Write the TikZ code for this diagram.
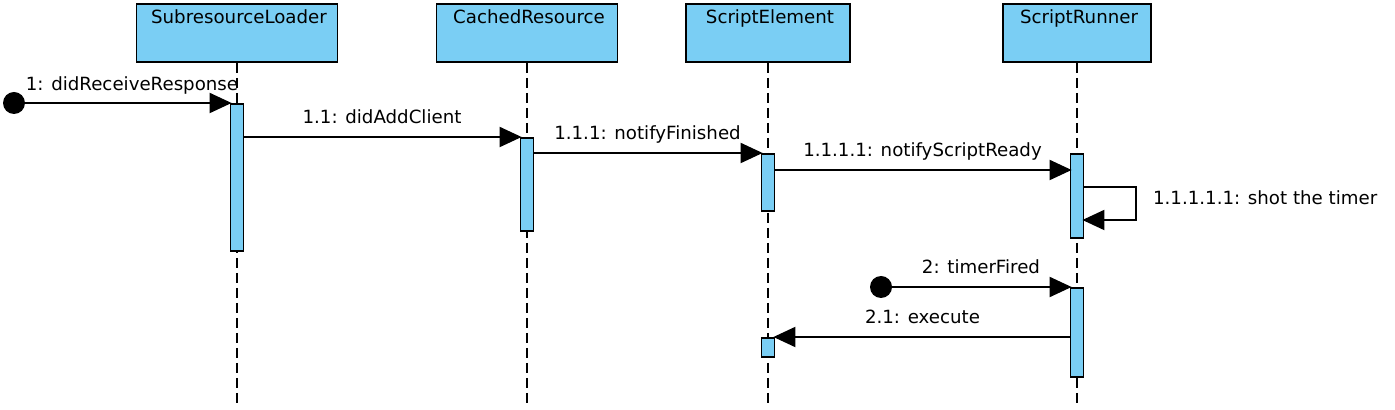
\documentclass[tikz,border=0pt]{standalone}
\usepackage{fontspec}
\setmainfont{DejaVu Sans}
\usetikzlibrary{arrows.meta, calc}
\definecolor{actblue}{HTML}{7ACEF4}

\tikzset{
  obj/.style={draw, fill=actblue, line width=0.9pt, minimum height=29pt, inner sep=0pt, anchor=north},
  act/.style={draw, fill=actblue, line width=0.9pt, minimum width=6.5pt, inner sep=0pt, anchor=north},
  life/.style={line width=0.9pt, dash pattern=on 5pt off 2.5pt},
  msg/.style={line width=1pt, shorten >=-1pt, -{Triangle[length=11pt,width=10pt]}},
  lbl/.style={anchor=base, yshift=6.5pt},
  start/.style={circle, fill, inner sep=0pt, minimum size=11pt}
}

\begin{document}
\begin{tikzpicture}[x=0.5pt, y=-0.5pt, font=\fontsize{9.1}{11}\selectfont]
  \useasboundingbox (0,0) rectangle (1395,410);
  % objects
  \node[obj, minimum width=100.5pt, label={[anchor=north, xshift=1pt]north:SubresourceLoader}] (h-sl) at (237,3) {};
  \node[obj, minimum width=90.5pt, label={[anchor=north, xshift=1pt]north:CachedResource}] (h-cr) at (527,3) {};
  \node[obj, minimum width=82pt, label={[anchor=north, xshift=1pt]north:ScriptElement}] (h-se) at (768,3) {};
  \node[obj, minimum width=74pt, label={[anchor=north, xshift=1pt]north:ScriptRunner}] (h-sr) at (1077,3) {};
  \foreach \n in {sl,cr,se,sr}
    \draw[life] (h-\n.south) -- ($(h-\n.south)+(0,344)$);
  % activations
  \node[act, minimum height=73.5pt] (a-sl) at (237,103) {};
  \node[act, minimum height=46.5pt] (a-cr) at (527,137) {};
  \node[act, minimum height=28.5pt] (a-se) at (768,153) {};
  \node[act, minimum height=42pt] (a-sr) at (1077,153) {};
  \node[act, minimum height=44.5pt] (a-sr2) at (1077,287) {};
  \node[act, minimum height=9.5pt] (a-se2) at (768,337) {};
  % messages
  \node[start] (s1) at (14,103) {};
  \draw[msg] (s1) -- (a-sl.north west);
  \node[anchor=base] (l-1) at (132,91) {1: didReceiveResponse};
  \draw[msg] (a-sl.east |- a-cr.north) -- (a-cr.north west) node[lbl, midway] (l-11) {1.1: didAddClient};
  \draw[msg] (a-cr.east |- a-se.north) -- (a-se.north west) node[lbl, midway] (l-111) {1.1.1: notifyFinished};
  \draw[msg] ($(a-se.north east)+(0,17)$) -- ($(a-sr.north west)+(0,17)$) node[lbl, midway] (l-1111) {1.1.1.1: notifyScriptReady};
  \draw[msg] ($(a-sr.north east)+(0,34)$) -| ++(52,33) -- ($(a-sr.north east)+(0,67)$);
  \node[anchor=base west] (l-self) at (1146,205) {1.1.1.1.1: shot the timer};
  \node[start] (s2) at (881,287) {};
  \draw[msg] (s2) -- (a-sr2.north west) node[lbl, midway] (l-2) {2: timerFired};
  \draw[msg] ($(a-sr2.north west)+(0,50)$) -- (a-se2.north east) node[lbl, midway] (l-21) {2.1: execute};
\end{tikzpicture}
\end{document}
